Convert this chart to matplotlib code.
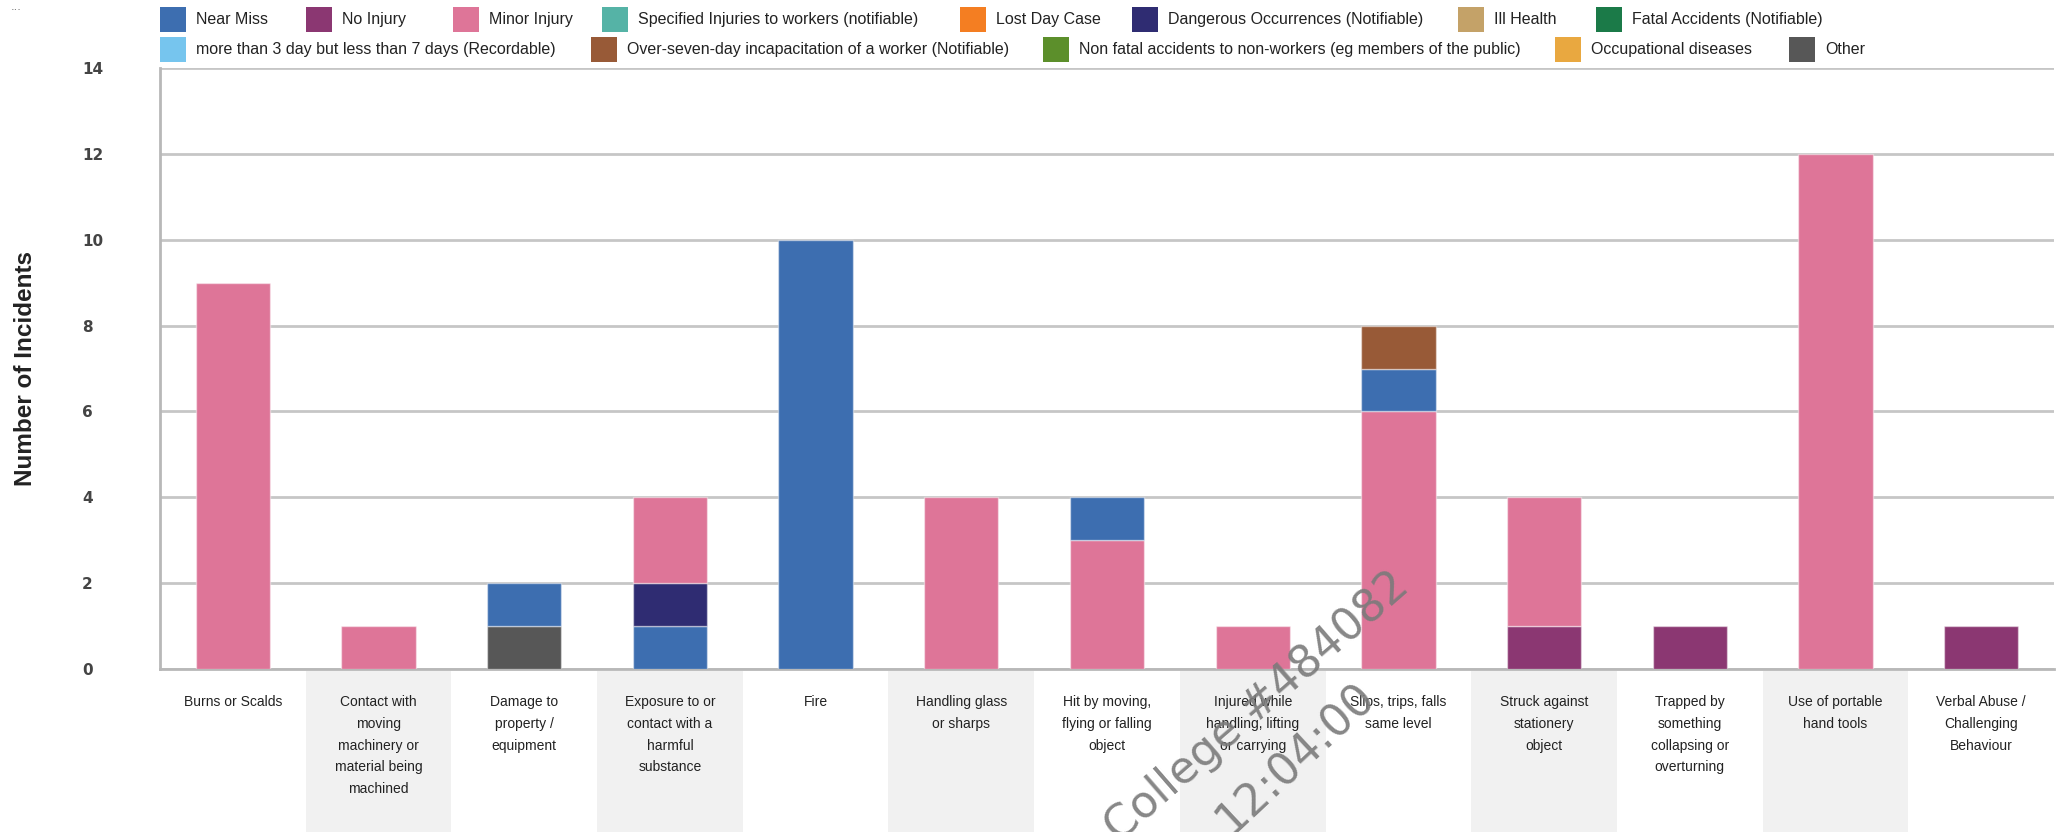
import matplotlib
matplotlib.use("Agg")
import matplotlib.pyplot as plt
from matplotlib.patches import Rectangle

# incident categories along the x axis
categories = [
    "Burns or Scalds",
    "Contact with\nmoving\nmachinery or\nmaterial being\nmachined",
    "Damage to\nproperty /\nequipment",
    "Exposure to or\ncontact with a\nharmful\nsubstance",
    "Fire",
    "Handling glass\nor sharps",
    "Hit by moving,\nflying or falling\nobject",
    "Injured while\nhandling, lifting\nor carrying",
    "Slips, trips, falls\nsame level",
    "Struck against\nstationery\nobject",
    "Trapped by\nsomething\ncollapsing or\noverturning",
    "Use of portable\nhand tools",
    "Verbal Abuse /\nChallenging\nBehaviour",
]

series_names = [
    "Near Miss", "No Injury", "Minor Injury",
    "Specified Injuries to workers (notifiable)", "Lost Day Case",
    "Dangerous Occurrences (Notifiable)", "Ill Health",
    "Fatal Accidents (Notifiable)",
    "more than 3 day but less than 7 days (Recordable)",
    "Over-seven-day incapacitation of a worker (Notifiable)",
    "Non fatal accidents to non-workers (eg members of the public)",
    "Occupational diseases", "Other",
]
series_colors = [
    "#3d6eb0", "#8b3772", "#de7598", "#55b3a6", "#f47e22", "#2f2c72",
    "#c4a268", "#1b7a48", "#76c5ee", "#985a37", "#5c8f2b", "#e9a840",
    "#575757",
]

near_miss = [0, 0, 1, 1, 10, 0, 1, 0, 1, 0, 0, 0, 0]
no_injury = [0, 0, 0, 0, 0, 0, 0, 0, 0, 1, 1, 0, 1]
minor_injury = [9, 1, 0, 2, 0, 4, 3, 1, 6, 3, 0, 12, 0]
dangerous = [0, 0, 0, 1, 0, 0, 0, 0, 0, 0, 0, 0, 0]
over_seven_day = [0, 0, 0, 0, 0, 0, 0, 0, 1, 0, 0, 0, 0]
other = [0, 0, 1, 0, 0, 0, 0, 0, 0, 0, 0, 0, 0]

counts = {
    "Near Miss": near_miss,
    "No Injury": no_injury,
    "Minor Injury": minor_injury,
    "Dangerous Occurrences (Notifiable)": dangerous,
    "Over-seven-day incapacitation of a worker (Notifiable)": over_seven_day,
    "Other": other,
}

# bottom-to-top order of the segments in each bar
stack_order = [
    ["Minor Injury"],
    ["Minor Injury"],
    ["Other", "Near Miss"],
    ["Near Miss", "Dangerous Occurrences (Notifiable)", "Minor Injury"],
    ["Near Miss"],
    ["Minor Injury"],
    ["Minor Injury", "Near Miss"],
    ["Minor Injury"],
    ["Minor Injury", "Near Miss",
     "Over-seven-day incapacitation of a worker (Notifiable)"],
    ["No Injury", "Minor Injury"],
    ["No Injury"],
    ["Minor Injury"],
    ["No Injury"],
]

W, H = 2064, 832
FONT = "Liberation Sans"
color_of = dict(zip(series_names, series_colors))

# legend layout: left edge of each swatch (px), per row
legend_rows = [
    (19.5, [160, 306, 453, 602, 960, 1132, 1458, 1596]),
    (49.5, [160, 591, 1043, 1555, 1789]),
]

fig = plt.figure(figsize=(W / 100, H / 100), dpi=100)
fig.patch.set_facecolor("white")
ax = fig.add_axes([160 / W, 1 - 669 / H, (2054 - 160) / W, (669 - 68) / H])

for i, order in enumerate(stack_order):
    bottom = 0
    for name in order:
        v = counts[name][i]
        ax.bar(i, v, bottom=bottom, width=0.51, color=color_of[name],
               edgecolor=(1, 1, 1, 0.45), linewidth=1, zorder=3)
        bottom += v

ax.set_xlim(-0.5, len(categories) - 0.5)
ax.set_ylim(0, 14)
ax.set_yticks(range(0, 15, 2))
ax.yaxis.grid(True, color="#c6c6c6", linewidth=2)
ax.set_axisbelow(True)

for side in ["top", "right"]:
    ax.spines[side].set_visible(False)
for side in ["left", "bottom"]:
    ax.spines[side].set_color("#b8b8b8")
    ax.spines[side].set_linewidth(2)

ax.tick_params(axis="both", length=0)
ax.tick_params(axis="y", pad=56)
for lab in ax.get_yticklabels():
    lab.set_horizontalalignment("left")
    lab.set_family("DejaVu Sans")
    lab.set_fontsize(11)
    lab.set_fontweight("bold")
    lab.set_color("#444444")

ax.set_xticks(range(len(categories)))
ax.set_xticklabels(categories, fontsize=10, family=FONT, linespacing=1.7,
                   color="#222222", va="top")
ax.tick_params(axis="x", pad=19)

# shaded bands behind every other category label
for i in range(1, len(categories), 2):
    ax.add_patch(Rectangle((i - 0.5, -0.004), 1, -0.3,
                           transform=ax.get_xaxis_transform(),
                           facecolor="#f1f1f1", edgecolor="none",
                           clip_on=False, zorder=0))

ax.set_ylabel("Number of Incidents", family=FONT, fontsize=17.5,
              fontweight="bold", color="#222222", va="center")
ax.yaxis.set_label_coords((26 - 160) / (2054 - 160), 0.5)

# legend drawn as two rows of swatches and labels
names_iter = iter(series_names)
for yc, xs in legend_rows:
    for x in xs:
        name = next(names_iter)
        fig.patches.append(Rectangle((x / W, 1 - (yc + 12.5) / H), 26 / W, 25 / H,
                                     transform=fig.transFigure,
                                     facecolor=color_of[name], edgecolor="none"))
        fig.text((x + 36) / W, 1 - yc / H, name, va="center", ha="left",
                 fontsize=11.5, family=FONT, color="#222222")

fig.text(11 / W, 1 - 2 / H, "...", fontsize=8, color="#666666", va="top")

# diagonal watermark
fig.text(1257 / W, 1 - 707 / H, "College #484082", fontsize=32,
         family="DejaVu Sans", color="#7a7a7a", alpha=0.9, rotation=41,
         rotation_mode="anchor", ha="center", va="center")
fig.text(1295 / W, 1 - 758 / H, "12:04:00", fontsize=32,
         family="DejaVu Sans", color="#7a7a7a", alpha=0.9, rotation=43,
         rotation_mode="anchor", ha="center", va="center")

fig.savefig("out.png", dpi=100)
